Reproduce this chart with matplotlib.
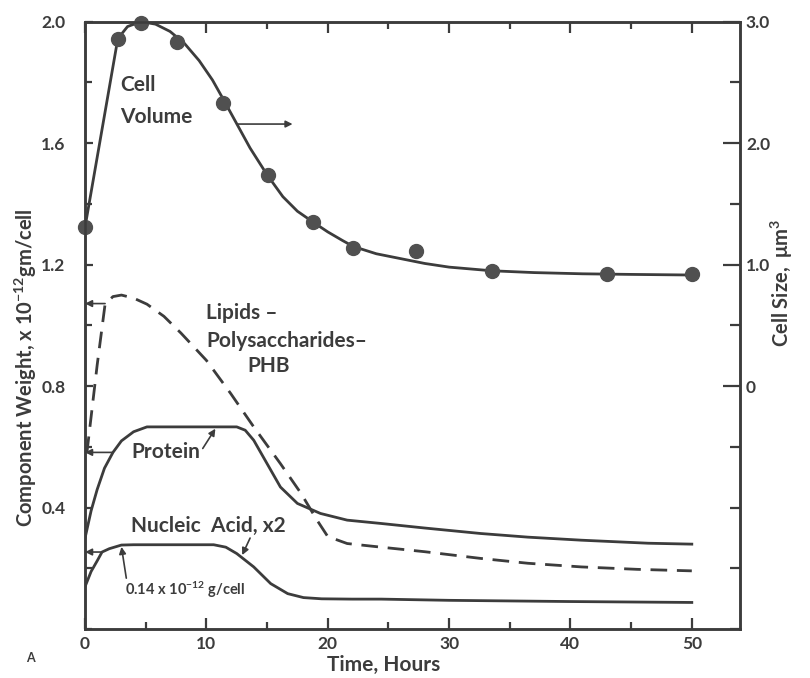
import matplotlib
matplotlib.use("Agg")
import matplotlib.pyplot as plt
from matplotlib.ticker import MultipleLocator, FixedLocator

# Data (time in hours)
# Cell volume, right axis (um^3): measured points and the drawn curve
vol_pts_t = [0, 2.7, 4.6, 7.6, 11.4, 15.1, 18.8, 22.1, 27.3, 33.5, 43.0, 50.0]
vol_pts = [1.31, 2.86, 2.99, 2.83, 2.33, 1.74, 1.35, 1.14, 1.11, 0.95, 0.92, 0.92]

vol_t = [0, 2.7, 3.5, 4.6, 5.8, 7.0, 8.2, 9.4, 10.5, 11.4, 12.5, 13.6, 15.0,
         16.3, 17.5, 18.8, 20.0, 21.2, 22.1, 24.0, 26.0, 28.0, 30.0, 33.5,
         37.0, 41.0, 45.0, 50.0]
vol = [1.31, 2.86, 2.96, 3.0, 2.98, 2.92, 2.82, 2.68, 2.52, 2.36, 2.16, 1.96,
       1.74, 1.56, 1.44, 1.35, 1.27, 1.20, 1.15, 1.09, 1.05, 1.01, 0.98, 0.95,
       0.935, 0.925, 0.92, 0.915]

# Component weights, left axis (x 10^-12 gm/cell)
lip_t = [0.15, 1.0, 1.65, 2.3, 3.0, 4.0, 5.1, 6.5, 7.9, 10.0, 12.0, 13.9, 16.1,
         17.8, 19.1, 20.0, 21.6, 24.4, 28.0, 32.6, 36.5, 40.9, 45.5, 50.0]
lipids = [0.58, 0.87, 1.07, 1.095, 1.10, 1.09, 1.07, 1.03, 0.975, 0.885, 0.776,
          0.666, 0.545, 0.447, 0.36, 0.305, 0.282, 0.27, 0.255, 0.233, 0.217,
          0.205, 0.197, 0.192]

prot_t = [0, 0.5, 1.0, 1.6, 2.3, 3.0, 4.0, 5.1, 12.5, 13.2, 13.9, 15.0, 16.1,
          17.5, 19.4, 21.6, 24.4, 28.0, 32.6, 36.5, 40.9, 46.4, 50.0]
protein = [0.30, 0.39, 0.46, 0.53, 0.582, 0.62, 0.65, 0.666, 0.666, 0.655,
           0.622, 0.545, 0.468, 0.414, 0.381, 0.359, 0.348, 0.333, 0.315,
           0.303, 0.293, 0.283, 0.28]

nuc_t = [0, 0.5, 1.0, 1.4, 2.0, 3.0, 4.0, 10.6, 11.6, 12.5, 13.9, 15.3, 16.7,
         18.0, 19.5, 22.0, 24.4, 30.0, 40.0, 50.0]
nucleic = [0.14, 0.19, 0.225, 0.254, 0.265, 0.277, 0.278, 0.278, 0.27, 0.249,
           0.205, 0.15, 0.117, 0.104, 0.1, 0.099, 0.099, 0.095, 0.091, 0.088]

left_ticks = [0.4, 0.8, 1.2, 1.6, 2.0]
left_labels = ["0.4", "0.8", "1.2", "1.6", "2.0"]
right_ticks = [0, 1, 2, 3]
right_labels = ["0", "1.0", "2.0", "3.0"]
x_ticks = [0, 10, 20, 30, 40, 50]

ink = "#3c3c3c"
font = "Lato"

plt.rcParams["font.family"] = [font, "DejaVu Sans"]
plt.rcParams["font.weight"] = "bold"
plt.rcParams["axes.labelweight"] = "bold"
plt.rcParams["mathtext.default"] = "regular"

fig = plt.figure(figsize=(8.1, 6.78), dpi=100)
ax = fig.add_axes([0.105, 0.072, 0.809, 0.896])
ax2 = ax.twinx()

# curves
ax.plot(lip_t, lipids, color=ink, lw=2.0, dashes=(6, 3.5))
ax.plot(prot_t, protein, color=ink, lw=2.0)
ax.plot(nuc_t, nucleic, color=ink, lw=2.0)
ax2.plot(vol_t, vol, color=ink, lw=2.0)
ax2.plot(vol_pts_t, vol_pts, "o", color="#505050", ms=10, clip_on=False)

ax.set_xlim(0, 54)
ax.set_ylim(0, 2.0)
ax2.set_ylim(-2.0, 3.0)

# ticks
ax.xaxis.set_major_locator(FixedLocator(x_ticks))
ax.xaxis.set_minor_locator(MultipleLocator(5))
ax.yaxis.set_major_locator(FixedLocator(left_ticks))
ax.set_yticklabels(left_labels)
ax.yaxis.set_minor_locator(MultipleLocator(0.2))
ax2.yaxis.set_major_locator(FixedLocator(right_ticks))
ax2.set_yticklabels(right_labels)
ax2.yaxis.set_minor_locator(MultipleLocator(0.5))

ax.tick_params(axis="both", which="both", direction="in", colors=ink,
               width=1.6, top=True, labelsize=12.5)
ax.tick_params(axis="x", which="major", length=8, pad=5)
ax.tick_params(axis="x", which="minor", length=5)
ax.tick_params(axis="y", which="major", length=6, pad=14)
ax.tick_params(axis="y", which="minor", length=5)
ax2.tick_params(axis="y", which="both", direction="in", colors=ink,
                width=1.6, labelsize=12.5)
ax2.tick_params(axis="y", which="major", length=12, pad=4)
ax2.tick_params(axis="y", which="minor", length=7)

for lab in ax.get_xticklabels() + ax.get_yticklabels() + ax2.get_yticklabels():
    lab.set_fontweight("bold")

for a in (ax, ax2):
    for s in a.spines.values():
        s.set_linewidth(1.8)
        s.set_color(ink)

ax.set_xlabel("Time, Hours", fontsize=15, color=ink)
ax.xaxis.set_label_coords(0.455, -0.042)
ax.set_ylabel("Component Weight, x 10$^{-12}$gm/cell", fontsize=14.5,
              color=ink)
ax.yaxis.set_label_coords(-0.07, 0.43)
ax2.set_ylabel("Cell Size,  $\\mu$m$^3$", fontsize=14.5, color=ink,
               rotation=90)
ax2.yaxis.set_label_coords(1.043, 0.57)

# labels on the plot
tkw = dict(color=ink, fontsize=15, ha="left", va="center")
ax.text(2.9, 1.79, "Cell", **tkw)
ax.text(2.9, 1.685, "Volume", **tkw)
ax.text(10.0, 1.04, "Lipids \u2013", **tkw)
ax.text(10.0, 0.948, "Polysaccharides\u2013", **tkw)
ax.text(13.4, 0.866, "PHB", **tkw)
ax.text(3.8, 0.583, "Protein", **tkw)
ax.text(3.8, 0.339, "Nucleic  Acid, x2", **tkw)
ax.text(3.3, 0.128, "0.14 x 10$^{-12}$ g/cell", color=ink, fontsize=10.5,
        ha="left", va="center")
fig.text(0.037, 0.03, "A", color=ink, fontsize=9, ha="center", va="center")

# arrows
akw = dict(arrowstyle="-|>", color=ink, lw=1.2, mutation_scale=10,
           shrinkA=0, shrinkB=0)
ax.annotate("", xy=(17.1, 1.663), xytext=(12.5, 1.663), arrowprops=akw)
ax.annotate("", xy=(0, 1.072), xytext=(1.65, 1.072), arrowprops=akw)
ax.annotate("", xy=(0, 0.582), xytext=(2.3, 0.582), arrowprops=akw)
ax.annotate("", xy=(0, 0.254), xytext=(1.4, 0.254), arrowprops=akw)
ax.annotate("", xy=(10.74, 0.66), xytext=(9.7, 0.595), arrowprops=akw)
ax.annotate("", xy=(12.95, 0.244), xytext=(13.6, 0.30), arrowprops=akw)
ax.annotate("", xy=(3.0, 0.271), xytext=(3.4, 0.168), arrowprops=akw)

fig.savefig("out.png", dpi=100)
